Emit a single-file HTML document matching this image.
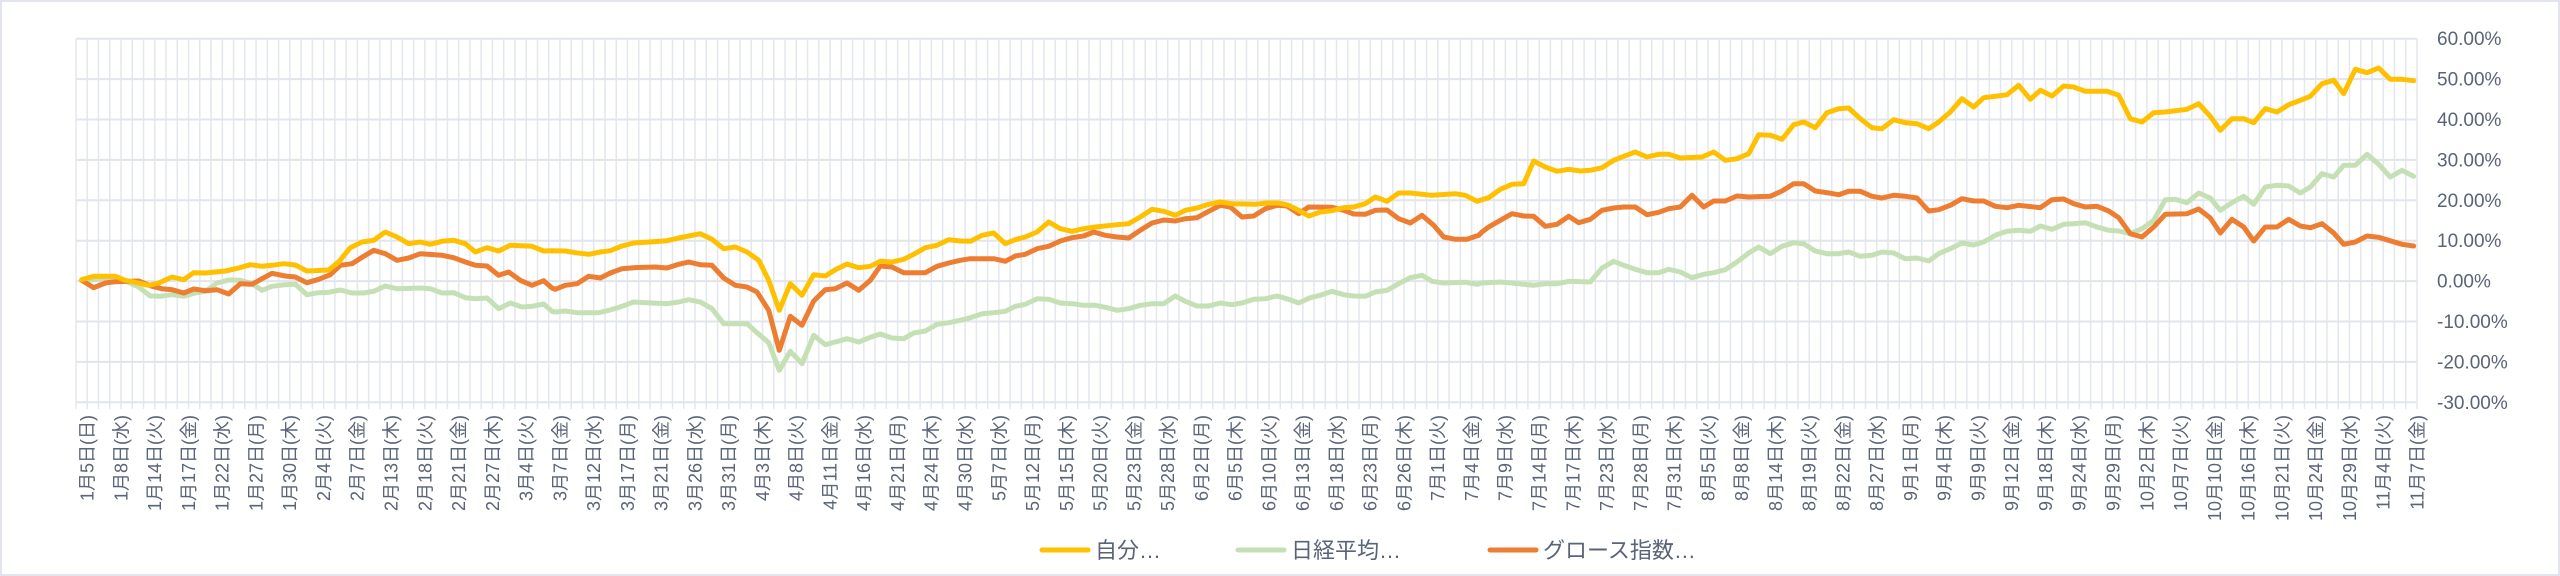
<!DOCTYPE html>
<html><head><meta charset="utf-8">
<style>
html,body{margin:0;padding:0;background:#fff;}
#wrap{width:2560px;height:576px;position:relative;overflow:hidden;box-sizing:border-box;border:2px solid #e2e6ec;}
svg{position:absolute;left:0;top:0;}
text{font-family:"Liberation Sans","Noto Sans CJK JP",sans-serif;fill:#5a6477;}
</style></head>
<body><div id="wrap"><svg id="s" width="2560" height="576" xmlns="http://www.w3.org/2000/svg"></svg></div>
<script>
const NS="http://www.w3.org/2000/svg",S=document.getElementById('s');
function el(t,a,p){const e=document.createElementNS(NS,t);for(const k in a)e.setAttribute(k,a[k]);(p||S).appendChild(e);return e;}
const L=74,R=2415,T=36.7,B=400,N=208,W=(R-L)/N,step=40.4;
// vertical grid
for(let i=0;i<=N;i++){const x=L+i*W;el('line',{x1:x,y1:T,x2:x,y2:B+7,stroke:'#e3e7ee','stroke-width':1.5});}
// horizontal grid + labels
for(let k=0;k<=9;k++){const y=T+k*step;el('line',{x1:L,y1:y,x2:R,y2:y,stroke:'#e1e5ec','stroke-width':2});
 const v=60-10*k;const t=el('text',{x:2435,y:y+6.5,'font-size':19});t.textContent=v.toFixed(2)+'%';}
// dates
const hol=['1-13','2-11','2-24','3-20','4-29','5-5','5-6','7-21','8-11','9-15','9-23','10-13','11-3'];
const dn='日月火水木金土';const dates=[new Date(2025,0,5)];
let d=new Date(2025,0,6);
while(dates.length<N){const w=d.getDay(),key=(d.getMonth()+1)+'-'+d.getDate();
 if(w>0&&w<6&&hol.indexOf(key)<0)dates.push(new Date(d));d=new Date(d.getTime()+86400000);}
for(let i=0;i<N;i+=3){const dt=dates[i];const cx=L+(i+0.5)*W+12;
 const t=el('text',{x:0,y:0,'font-size':18,'text-anchor':'end',transform:`translate(${cx},413) rotate(-90)`});
 t.textContent=(dt.getMonth()+1)+'月'+dt.getDate()+'日('+dn[dt.getDay()]+')';}
// series data from zooms: [ox,oy,pts]
const Y=[[70,150,[29,383,65,373,130,373,160,385,230,400,260,393,300,375,335,383,365,362,400,363,460,357,500,348,535,338,570,343,600,340,635,335,670,339,705,357,770,354,800,330,835,287,870,270,905,265,940,240,975,255,1010,275,1045,270,1075,277,1110,268,1145,265,1180,275,1210,300,1245,287,1280,297,1315,280,1380,283,1415,297,1440,296]],
[540,150,[35,295,70,297,100,302,140,307,175,300,205,296,240,282,275,273,310,271,375,266,410,258,440,252,475,245,510,262,545,290,580,285,615,300,650,325,680,385,712,475,745,395,780,430,815,368,850,372,880,353,915,336,950,347,985,343,1015,328,1050,330,1085,322,1115,307,1150,287,1185,280,1220,263,1255,267,1285,268,1320,250,1355,243,1390,275,1420,263]],
[1010,120,[0,355,40,345,75,330,110,300,145,320,180,328,215,320,250,315,315,308,350,305,385,285,420,262,455,268,490,280,520,265,555,258,590,247,625,240,660,245,730,247,765,243,800,243,830,250,860,265,890,282,925,270,960,266,995,257,1025,255,1060,245,1090,225,1125,238,1160,213,1195,213,1260,220,1330,215,1360,220,1395,238]],
[1480,50,[0,443,20,437,55,412,90,397,125,395,155,327,190,345,225,358,260,352,295,357,325,355,360,347,395,325,425,313,460,300,495,315,530,307,560,307,595,318,660,315,695,300,730,325,765,320,800,305,830,248,865,250,900,262,935,218,965,210,1000,227,1035,182,1070,170,1100,168,1135,200,1170,227,1200,230,1235,203,1270,212,1305,215,1340,230,1370,210,1405,180]],
[1950,50,[0,180,30,140,65,165,95,137,130,133,165,128,200,100,235,142,265,115,300,132,335,102,365,105,400,118,465,118,500,130,535,200,570,210,605,182,640,180,705,172,740,155,775,193,805,235,840,200,875,200,905,212,940,170,975,180,1010,158,1045,145,1075,133,1110,95,1145,85,1175,125,1210,52,1245,62,1280,48,1315,82,1350,82,1385,86]]];
const O=[[70,150,[29,385,65,407,100,393,130,389,200,387,240,403,270,410,300,413,335,423,365,411,400,416,435,413,470,426,505,395,540,397,570,380,600,364,640,372,670,375,705,392,740,382,775,368,805,340,840,335,875,313,905,295,940,305,975,325,1010,318,1045,305,1110,310,1145,317,1180,330,1210,340,1245,342,1280,370,1310,360,1345,385,1380,400,1415,386,1440,408]],
[540,150,[40,412,70,400,105,395,140,373,175,378,205,363,240,350,275,347,340,345,375,348,410,337,440,330,475,338,510,340,545,378,580,400,615,405,645,420,680,475,712,595,745,493,780,520,815,447,850,413,880,410,915,393,950,415,985,385,1015,342,1050,345,1085,362,1150,362,1185,343,1220,333,1255,325,1285,320,1355,320,1390,328,1420,312]],
[1010,120,[0,408,40,397,75,380,110,373,145,357,180,347,215,342,245,330,280,340,315,345,350,348,385,325,420,303,455,294,490,297,520,290,555,287,590,268,625,250,655,255,690,285,725,282,760,260,795,250,825,252,860,275,890,255,960,256,995,265,1025,276,1060,277,1090,265,1125,264,1160,290,1195,303,1230,280,1265,310,1295,345,1330,352,1365,352,1400,340]],
[1480,50,[0,540,20,525,55,505,90,485,125,492,155,493,190,523,225,517,260,493,290,512,325,502,360,475,395,468,425,465,460,465,495,488,530,481,560,470,595,465,630,430,665,465,695,447,730,447,765,432,800,435,865,433,900,417,935,395,965,395,1000,417,1035,422,1070,428,1100,418,1135,418,1170,433,1200,438,1235,430,1270,433,1305,438,1340,477,1370,473,1405,460]],
[1950,50,[0,455,30,440,65,447,95,447,130,463,165,467,200,460,265,467,300,443,335,441,365,455,400,465,435,463,470,477,500,497,535,545,570,555,605,525,640,487,705,485,740,471,775,498,805,543,840,502,875,525,905,567,940,525,975,525,1010,502,1045,522,1075,527,1110,515,1145,543,1175,577,1210,570,1245,552,1280,556,1350,577,1385,582]]];
const G=[[70,150,[29,385,65,383,100,379,165,389,200,405,235,432,265,433,300,428,335,433,365,424,400,418,435,393,470,384,505,385,540,395,570,415,600,403,640,398,670,397,705,428,740,422,770,421,805,414,840,423,875,423,905,418,940,402,975,410,1045,408,1075,410,1110,423,1145,422,1180,437,1210,440,1245,438,1280,470,1315,453,1350,465,1380,463,1415,456,1440,478]],
[540,150,[40,480,70,477,105,482,170,482,205,474,240,463,275,450,375,455,410,450,440,443,475,450,510,470,545,515,580,515,615,515,645,542,680,572,712,655,745,598,780,635,815,550,850,578,880,570,915,560,950,570,985,556,1015,546,1050,558,1085,560,1115,543,1150,537,1185,517,1220,512,1255,505,1285,497,1320,485,1355,482,1390,478,1420,463]],
[1010,120,[0,555,40,547,75,530,110,532,145,543,180,545,215,550,250,550,285,557,315,565,350,560,385,550,420,545,455,545,490,522,520,538,555,552,590,552,625,543,660,548,690,543,725,532,760,530,795,522,830,532,860,543,895,527,925,520,960,508,995,518,1025,522,1060,523,1090,510,1125,505,1160,485,1195,467,1230,460,1260,478,1295,483,1360,481,1395,487]],
[1480,50,[0,693,55,690,90,693,125,697,155,700,190,695,225,695,260,688,325,690,360,648,395,628,425,640,460,652,495,662,530,662,560,652,595,660,630,677,665,667,695,662,730,653,765,630,800,603,830,585,865,605,900,583,935,572,965,575,1000,597,1035,605,1070,605,1100,600,1135,613,1170,610,1200,600,1235,603,1270,620,1305,618,1340,627,1370,605,1405,590]],
[1950,50,[0,595,30,573,65,579,95,570,130,550,165,538,200,535,235,538,265,522,300,532,335,517,365,515,400,512,435,525,470,535,500,537,535,545,570,530,605,505,640,443,670,442,705,452,740,423,775,438,805,475,840,452,875,433,905,457,940,405,975,400,1010,402,1045,423,1075,405,1110,365,1145,375,1175,340,1210,340,1245,307,1280,337,1315,375,1350,355,1385,373]]];
function pts(segs){const out=[];let last=-1e9;
 segs.forEach(([ox,oy,a])=>{for(let i=0;i<a.length;i+=2){const x=ox+a[i]/3,y=oy+a[i+1]/3;if(x>last+3){out.push(x.toFixed(1)+','+y.toFixed(1));last=x;}}});
 return out.join(' ');}
const sty={fill:'none','stroke-width':5,'stroke-linejoin':'round','stroke-linecap':'round'};
el('polyline',Object.assign({points:pts(G),stroke:'#C5E0B4'},sty));
el('polyline',Object.assign({points:pts(O),stroke:'#ED7D31'},sty));
el('polyline',Object.assign({points:pts(Y),stroke:'#FFC000'},sty));
// legend
const leg=[[1038,'#FFC000','自分…'],[1234,'#C5E0B4','日経平均…'],[1486,'#ED7D31','グロース指数…']];
leg.forEach(([x,c,t])=>{el('line',{x1:x+2,y1:548,x2:x+48,y2:548,stroke:c,'stroke-width':5,'stroke-linecap':'round'});
 const e=el('text',{x:x+55,y:556,'font-size':22});e.textContent=t;});
</script>
</body></html>
